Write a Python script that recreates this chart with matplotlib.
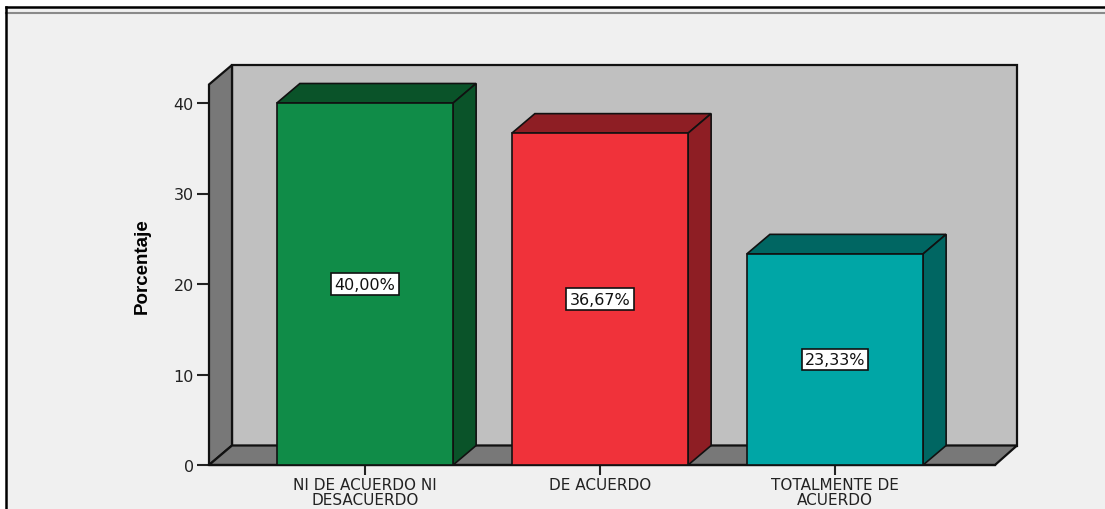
import matplotlib
matplotlib.use("Agg")
import matplotlib.pyplot as plt
from matplotlib.patches import Polygon, Rectangle
from matplotlib.lines import Line2D

# Data
categorias = ["NI DE ACUERDO NI\nDESACUERDO", "DE ACUERDO", "TOTALMENTE DE\nACUERDO"]
porcentajes = [40.00, 36.67, 23.33]
etiquetas = ["40,00%", "36,67%", "23,33%"]
y_ticks = [0, 10, 20, 30, 40]

colores_frente = ["#108c48", "#f0323a", "#00a6a6"]
colores_lado = ["#0a5329", "#8e1e24", "#006662"]

W, H = 1105, 510
fig = plt.figure(figsize=(W / 100, H / 100), dpi=100, facecolor="white")

# panel background and frame lines
fig.patches.append(Rectangle((6 / W, 0), 1 - 6 / W, 1 - 8 / H, transform=fig.transFigure,
                             facecolor="#f0f0f0", edgecolor="none", zorder=-10))
fig.lines.append(Line2D([6 / W, 1], [1 - 8 / H, 1 - 8 / H], transform=fig.transFigure,
                        color="black", lw=1.8))
fig.lines.append(Line2D([6 / W, 1], [1 - 14 / H, 1 - 14 / H], transform=fig.transFigure,
                        color="#8a8a8a", lw=1.5))
fig.lines.append(Line2D([6 / W, 6 / W], [0, 1 - 8 / H], transform=fig.transFigure,
                        color="black", lw=1.8))

# axes region: front plane left (209px) to back wall right (1017px), y=0 at 466px, top 66px
ax = fig.add_axes([209 / W, (H - 466) / H, (1017 - 209) / W, 400 / H])
ax.set_facecolor("none")
px_x = 235.0          # pixels per category
px_y = 9.05           # pixels per percent
x0 = -(365 - 209) / px_x
x1 = x0 + (1017 - 209) / px_x
y1 = 400 / px_y
ax.set_xlim(x0, x1)
ax.set_ylim(0, y1)

DX = 23 / px_x
DY = 19.5 / px_y
x_front_end = x0 + (995 - 209) / px_x

ec = "#111111"
# back wall
ax.add_patch(Polygon([(x0 + DX, DY), (x1, DY), (x1, y1), (x0 + DX, y1)],
                     closed=True, facecolor="#c0c0c0", edgecolor=ec, lw=1.6, zorder=1, clip_on=False))
# left wall
ax.add_patch(Polygon([(x0, 0), (x0, y1 - DY), (x0 + DX, y1), (x0 + DX, DY)],
                     closed=True, facecolor="#787878", edgecolor=ec, lw=1.6, zorder=2, clip_on=False))
# floor
ax.add_patch(Polygon([(x0, 0), (x_front_end, 0), (x1, DY), (x0 + DX, DY)],
                     closed=True, facecolor="#787878", edgecolor=ec, lw=1.6, zorder=2, clip_on=False))

bw = 0.75
for i, v in enumerate(porcentajes):
    l, r = i - bw / 2, i + bw / 2
    ax.add_patch(Polygon([(l, v), (r, v), (r + DX, v + DY), (l + DX, v + DY)],
                         closed=True, facecolor=colores_lado[i], edgecolor=ec, lw=1.2, zorder=3))
    ax.add_patch(Polygon([(r, 0), (r + DX, DY), (r + DX, v + DY), (r, v)],
                         closed=True, facecolor=colores_lado[i], edgecolor=ec, lw=1.2, zorder=3))
    ax.add_patch(Rectangle((l, 0), bw, v, facecolor=colores_frente[i], edgecolor=ec, lw=1.2, zorder=4))
    ax.text(i, v / 2, etiquetas[i], ha="center", va="center", fontsize=11.5, family="DejaVu Sans",
            color="#111111", zorder=5,
            bbox=dict(boxstyle="square,pad=0.2", facecolor="white", edgecolor="#111111", lw=1.2))

# front axis line along the floor edge
ax.plot([x0, x_front_end], [0, 0], color=ec, lw=1.6, zorder=3, clip_on=False)

for s in ax.spines.values():
    s.set_visible(False)

ax.set_yticks(y_ticks)
ax.set_xticks(range(len(categorias)))
ax.set_xticklabels(categorias, fontsize=11, family="DejaVu Sans", color="#222222",
                   linespacing=0.92)
ax.tick_params(axis="y", length=9, width=1.5, color="#222222", labelsize=11.5, labelcolor="#222222",
               pad=2)
ax.tick_params(axis="x", length=7, width=1.5, color="#222222", pad=2)
for t in ax.get_yticklabels():
    t.set_family("DejaVu Sans")

ax.set_ylabel("Porcentaje", fontsize=13.5, fontweight="bold",
              family=["Liberation Sans Narrow", "Liberation Sans"], labelpad=16)

fig.savefig("out.png", dpi=100, facecolor="white")
